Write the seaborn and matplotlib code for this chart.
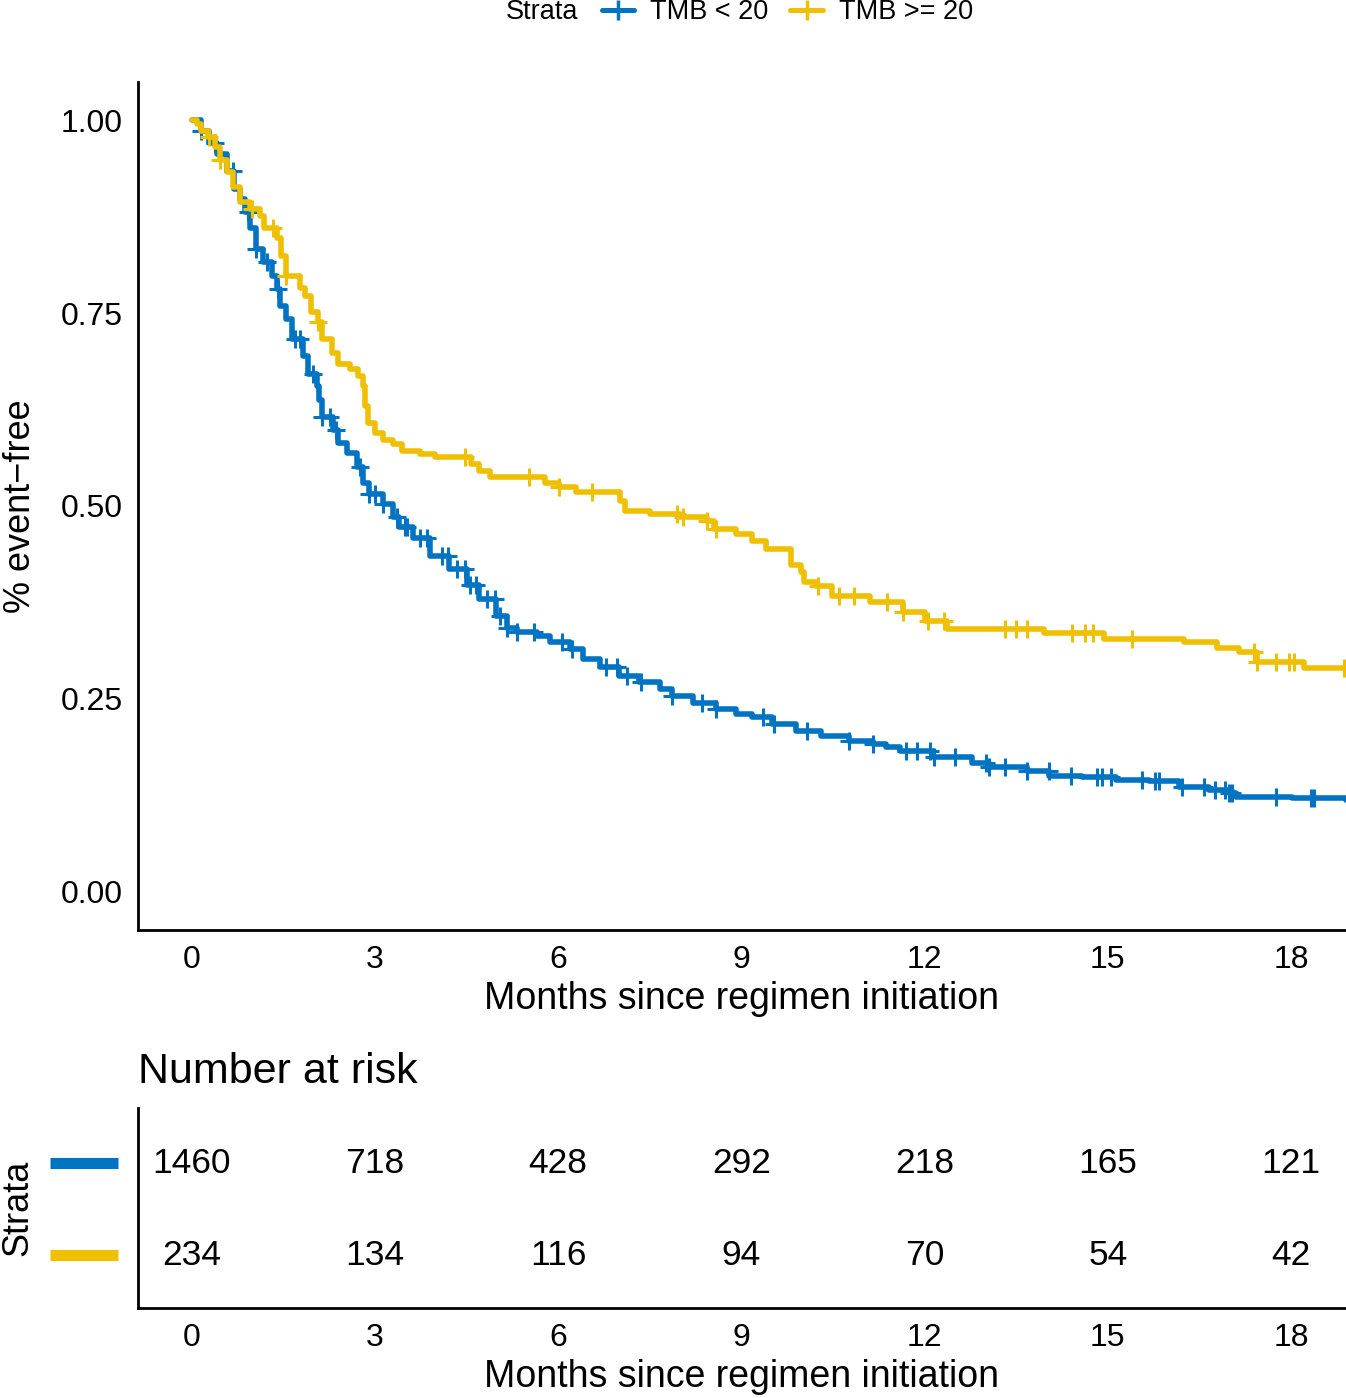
import numpy as np
import matplotlib
matplotlib.use("Agg")
import matplotlib.pyplot as plt
from matplotlib.lines import Line2D
import seaborn as sns

# Kaplan-Meier step points (months, survival)
blue_t = [0, 0.16, 0.29, 0.41, 0.57, 0.70, 0.79, 0.87, 0.95, 1.06,
          1.16, 1.31, 1.39, 1.44, 1.55, 1.65, 1.82, 1.90, 2.05, 2.09,
          2.14, 2.31, 2.39, 2.54, 2.70, 2.80, 2.91, 3.13, 3.29, 3.40,
          3.62, 3.90, 4.22, 4.50, 4.71, 4.99, 5.16, 5.32, 5.65, 5.86,
          6.19, 6.40, 6.68, 7.00, 7.33, 7.66, 7.87, 8.20, 8.59, 8.92,
          9.18, 9.5, 9.9, 10.3, 10.77, 11.15, 11.37, 11.59, 12.13, 12.78,
          13.06, 13.67, 14.04, 14.58, 15.14, 15.68, 16.17, 16.66, 16.99, 17.10,
          18.02, 18.9]
blue_s = [1.0, 0.986, 0.971, 0.956, 0.934, 0.911, 0.898, 0.881, 0.861, 0.833,
          0.816, 0.798, 0.781, 0.759, 0.742, 0.716, 0.694, 0.671, 0.655, 0.638,
          0.616, 0.599, 0.582, 0.569, 0.551, 0.530, 0.515, 0.502, 0.486, 0.473,
          0.459, 0.435, 0.418, 0.398, 0.379, 0.357, 0.342, 0.336, 0.331, 0.323,
          0.314, 0.301, 0.291, 0.279, 0.271, 0.262, 0.253, 0.245, 0.236, 0.230,
          0.226, 0.217, 0.208, 0.201, 0.195, 0.191, 0.187, 0.182, 0.174, 0.167,
          0.162, 0.156, 0.150, 0.148, 0.145, 0.143, 0.136, 0.132, 0.128, 0.123,
          0.121, 0.118]

gold_t = [0, 0.08, 0.16, 0.26, 0.38, 0.46, 0.57, 0.67, 0.79, 0.95,
          1.11, 1.19, 1.39, 1.47, 1.55, 1.77, 1.85, 1.96, 2.06, 2.14,
          2.29, 2.39, 2.59, 2.72, 2.80, 2.83, 2.88, 3.00, 3.13, 3.29,
          3.45, 3.73, 3.98, 4.58, 4.71, 4.88, 5.78, 6.02, 6.30, 7.02,
          7.10, 7.50, 7.99, 8.43, 8.56, 8.92, 9.18, 9.41, 9.82, 9.98,
          10.02, 10.23, 10.49, 11.10, 11.64, 12.00, 12.36, 13.96, 14.93, 16.24,
          16.79, 17.15, 17.45, 18.22, 18.9]
gold_s = [1.0, 0.995, 0.986, 0.978, 0.966, 0.949, 0.933, 0.914, 0.894, 0.885,
          0.876, 0.861, 0.848, 0.824, 0.798, 0.783, 0.772, 0.752, 0.738, 0.716,
          0.699, 0.684, 0.677, 0.668, 0.655, 0.629, 0.608, 0.595, 0.586, 0.580,
          0.571, 0.567, 0.563, 0.554, 0.545, 0.537, 0.530, 0.524, 0.518, 0.506,
          0.493, 0.489, 0.486, 0.480, 0.470, 0.463, 0.454, 0.444, 0.424, 0.414,
          0.401, 0.396, 0.383, 0.376, 0.363, 0.351, 0.341, 0.335, 0.328, 0.323,
          0.316, 0.310, 0.297, 0.290, 0.290]

# censoring times
blue_cens = [0.16, 0.38, 0.67, 0.92, 1.06, 1.23, 1.41, 1.69, 1.77, 1.98, 2.14, 2.26,
             2.37, 2.75, 2.91, 3.0, 3.13, 3.36, 3.49, 3.52, 3.73, 3.86, 4.09, 4.19,
             4.34, 4.47, 4.55, 4.66, 4.83, 4.96, 5.04, 5.16, 5.32, 5.61, 6.06, 6.22,
             6.79, 6.97, 7.12, 7.36, 7.87, 8.35, 8.59, 9.35, 9.54, 10.08, 10.77, 11.15,
             11.69, 11.88, 12.09, 12.16, 12.49, 13.0, 13.06, 13.32, 13.67, 14.03, 14.39,
             14.83, 14.91, 15.06, 15.56, 15.78, 15.84, 16.22, 16.58, 16.76, 16.92, 16.99,
             17.04, 17.76, 18.33, 18.38]
gold_cens = [0.29, 0.46, 0.98, 1.33, 1.55, 2.06, 4.47, 5.53, 6.02, 6.56, 7.95, 8.04,
             8.43, 8.59, 10.25, 10.6, 10.85, 11.39, 11.64, 12.05, 12.32, 13.31, 13.5,
             13.68, 14.42, 14.62, 14.75, 15.4, 17.4, 17.45, 17.76, 17.97, 18.05, 18.87]

strata = ["TMB < 20", "TMB >= 20"]
colors = ["#0073C2", "#EFC000"]
risk_times = [0, 3, 6, 9, 12, 15, 18]
blue_risk = [1460, 718, 428, 292, 218, 165, 121]
gold_risk = [234, 134, 116, 94, 70, 54, 42]

sns.set_style("white")
plt.rcParams["font.family"] = ["Liberation Sans", "DejaVu Sans"]
plt.rcParams["text.color"] = "black"
plt.rcParams["axes.labelcolor"] = "black"

fig = plt.figure(figsize=(13.46, 13.98), dpi=100)
ax = fig.add_axes([0.1025, 0.3348, 0.8975, 0.6066])
axt = fig.add_axes([0.1025, 0.0644, 0.8975, 0.1430])


def surv_at(times, surv, t):
    idx = np.searchsorted(times, t, side="right") - 1
    return np.asarray(surv)[idx]


curves = [(blue_t, blue_s, blue_cens), (gold_t, gold_s, gold_cens)]
for (t, s, c), col in zip(curves, colors):
    sns.lineplot(x=t, y=s, drawstyle="steps-post", color=col, linewidth=4,
                 estimator=None, ax=ax)
    ax.plot(c, surv_at(t, s, c), linestyle="none", marker="+", markersize=13,
            markeredgewidth=2.2, color=col)

ax.set_xlim(-0.88, 18.9)
ax.set_ylim(-0.05, 1.05)
ax.set_xticks(risk_times)
ax.set_yticks([0, 0.25, 0.5, 0.75, 1.0])
ax.set_yticklabels(["0.00", "0.25", "0.50", "0.75", "1.00"])
ax.set_xlabel("Months since regimen initiation", fontsize=27, labelpad=4)
ax.set_ylabel("% event\u2212free", fontsize=26, labelpad=16)

for a in (ax, axt):
    for side in ["top", "right"]:
        a.spines[side].set_visible(False)
    for side in ["left", "bottom"]:
        a.spines[side].set_linewidth(2)
        a.spines[side].set_color("black")
    a.tick_params(axis="both", labelsize=23, length=7, width=2, direction="out",
                  color="black", labelcolor="black", pad=4)

# legend on top
handles = [Line2D([], [], color=col, linewidth=3.6, marker="+", markersize=15,
                  markeredgewidth=2.5) for col in colors]
fig.legend(handles, strata, loc="center", bbox_to_anchor=(0.585, 0.9914), ncol=2,
           frameon=False, fontsize=19.5, handlelength=1.2, handletextpad=0.6,
           columnspacing=0.8, borderaxespad=0)
fig.text(0.4295, 0.9914, "Strata", fontsize=19.5, ha="right", va="center")

# number at risk table
rows = [2, 1]
for r, vals in zip(rows, [blue_risk, gold_risk]):
    for x, v in zip(risk_times, vals):
        axt.text(x, r, str(v), ha="center", va="center", fontsize=25.5)

axt.set_xlim(-0.88, 18.9)
axt.set_ylim(0.424, 2.598)
axt.set_xticks(risk_times)
axt.set_yticks([])
axt.set_xlabel("Months since regimen initiation", fontsize=27, labelpad=4)
axt.set_ylabel("Strata", fontsize=26, labelpad=74)
axt.set_title("Number at risk", fontsize=31, loc="left", pad=18)

trans = axt.get_yaxis_transform()
for r, col in zip(rows, colors):
    axt.plot([-0.073, -0.0166], [r, r], color=col, linewidth=8,
             transform=trans, clip_on=False, solid_capstyle="butt")

fig.savefig("out.png", dpi=100)
